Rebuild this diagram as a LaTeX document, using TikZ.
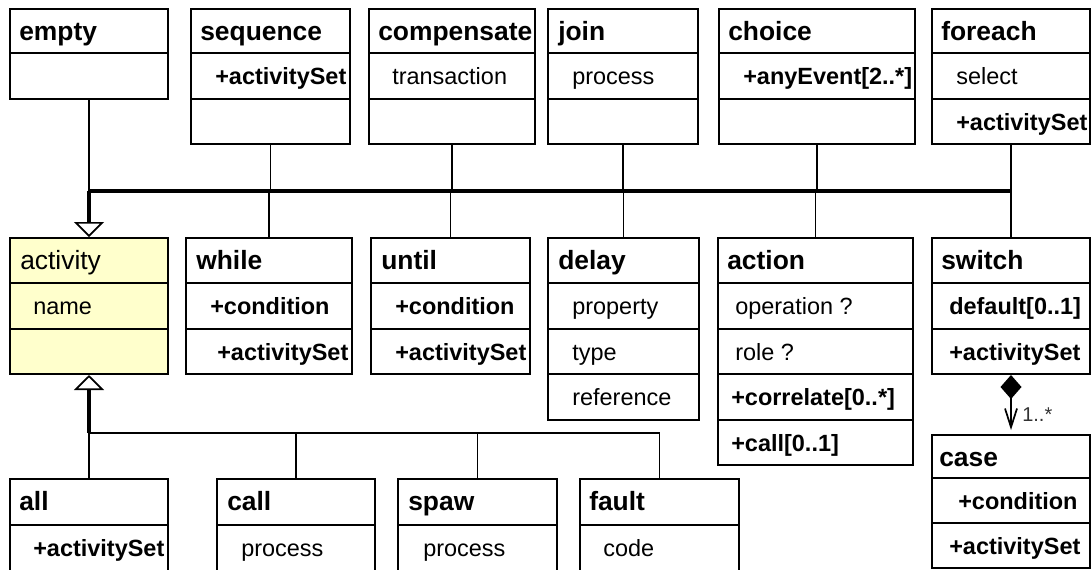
\documentclass[tikz,border=0pt]{standalone}
\usepackage{fontspec}
\setmainfont{Liberation Sans}
\usetikzlibrary{arrows.meta,fit}

\definecolor{noteyellow}{RGB}{255,255,204}

\tikzset{
  box/.style={draw, line width=1.5pt, inner sep=0pt},
  divline/.style={line width=1.5pt},
  hdr/.style={font=\fontsize{19.8}{22}\selectfont\bfseries, inner sep=0pt},
  hreg/.style={font=\fontsize{19.8}{22}\selectfont, inner sep=0pt},
  att/.style={font=\fontsize{17.6}{20}\selectfont, inner sep=0pt},
  batt/.style={font=\fontsize{17.6}{20}\selectfont\bfseries, inner sep=0pt},
  lbl/.style={font=\fontsize{15}{17}\selectfont, text=black!80, inner sep=0pt},
  thinln/.style={line width=1.4pt},
  medln/.style={line width=1.9pt},
  thickln/.style={line width=2.3pt},
  gen/.style={-{Triangle[open, length=11.25pt, width=22.5pt, line width=1.3pt]}},
}

% class box: name, left, top, right, bottom
\newcommand\umlbox[6][]{\node[box, #1, fit={(#3,#4) (#5,#6)}] (#2) {};}
% compartment separator: box name, y
\newcommand\sep[2]{\draw[divline] (#1.west |- 0,#2) -- (#1.east |- 0,#2);}
% compartment text: style, name, x, baseline, text
\newcommand\ct[5]{\node[#1, anchor=base west] (#2) at (#3,#4) {#5};}

\begin{document}
\begin{tikzpicture}[x=0.75pt, y=-0.75pt]
\fill[white] (0,0) rectangle (1091,569);
\useasboundingbox (0,0) rectangle (1091,569);

% ---- top row ----
\umlbox{empty}{10}{9}{168}{99}
\sep{empty}{53}
\ct{hdr}{empty-h}{19}{40}{empty}

\umlbox{sequence}{191}{9}{350}{144}
\sep{sequence}{53}\sep{sequence}{99}
\ct{hdr}{sequence-h}{200}{40}{sequence}
\ct{batt}{sequence-a}{215}{84}{+activitySet}

\umlbox{compensate}{369}{9}{535}{144}
\sep{compensate}{53}\sep{compensate}{99}
\ct{hdr}{compensate-h}{378}{40}{compensate}
\ct{att}{compensate-a}{392}{84}{transaction}

\umlbox{join}{548}{9}{698}{144}
\sep{join}{53}\sep{join}{99}
\ct{hdr}{join-h}{558}{40}{join}
\ct{att}{join-a}{572}{84}{process}

\umlbox{choice}{719}{9}{915}{144}
\sep{choice}{53}\sep{choice}{99}
\ct{hdr}{choice-h}{728}{40}{choice}
\ct{batt}{choice-a}{743}{84}{+anyEvent[2..*]}

\umlbox{foreach}{932}{9}{1090}{144}
\sep{foreach}{53}\sep{foreach}{99}
\ct{hdr}{foreach-h}{941}{40}{foreach}
\ct{att}{foreach-a}{956}{84}{select}
\ct{batt}{foreach-b}{956}{130}{+activitySet}

% ---- middle row ----
\umlbox[fill=noteyellow]{activity}{10}{238}{168}{374}
\sep{activity}{283}\sep{activity}{329}
\ct{hreg}{activity-h}{20}{269}{activity}
\ct{att}{activity-a}{33}{314}{name}

\umlbox{while}{186}{238}{352}{374}
\sep{while}{283}\sep{while}{329}
\ct{hdr}{while-h}{196}{269}{while}
\ct{batt}{while-a}{210}{314}{+condition}
\ct{batt}{while-b}{217}{360}{+activitySet}

\umlbox{until}{371}{238}{530}{374}
\sep{until}{283}\sep{until}{329}
\ct{hdr}{until-h}{381}{269}{until}
\ct{batt}{until-a}{395}{314}{+condition}
\ct{batt}{until-b}{395}{360}{+activitySet}

\umlbox{delay}{548}{238}{699}{420}
\sep{delay}{283}\sep{delay}{329}\sep{delay}{374}
\ct{hdr}{delay-h}{558}{269}{delay}
\ct{att}{delay-a}{572}{314}{property}
\ct{att}{delay-b}{572}{360}{type}
\ct{att}{delay-c}{572}{405}{reference}

\umlbox{action}{718}{238}{913}{465}
\sep{action}{283}\sep{action}{329}\sep{action}{374}\sep{action}{420}
\ct{hdr}{action-h}{727}{269}{action}
\ct{att}{action-a}{735}{314}{operation ?}
\ct{att}{action-b}{735}{360}{role ?}
\ct{batt}{action-c}{731}{405}{+correlate[0..*]}
\ct{batt}{action-d}{731}{451}{+call[0..1]}

\umlbox{switch}{932}{238}{1090}{374}
\sep{switch}{283}\sep{switch}{329}
\ct{hdr}{switch-h}{941}{269}{switch}
\ct{batt}{switch-a}{949}{314}{default[0..1]}
\ct{batt}{switch-b}{949}{360}{+activitySet}

\umlbox{case}{932}{435}{1090}{568}
\sep{case}{478}\sep{case}{523}
\ct{hdr}{case-h}{939}{466}{case}
\ct{batt}{case-a}{958}{509}{+condition}
\ct{batt}{case-b}{949}{554}{+activitySet}

% ---- bottom row ----
\umlbox{all}{10}{479}{168}{585}
\sep{all}{525}
\ct{hdr}{all-h}{19}{510}{all}
\ct{batt}{all-a}{33}{556}{+activitySet}

\umlbox{call}{217}{479}{375}{585}
\sep{call}{525}
\ct{hdr}{call-h}{227}{510}{call}
\ct{att}{call-a}{241}{556}{process}

\umlbox{spaw}{398}{479}{557}{585}
\sep{spaw}{525}
\ct{hdr}{spaw-h}{408}{510}{spaw}
\ct{att}{spaw-a}{423}{556}{process}

\umlbox{fault}{580}{479}{739}{585}
\sep{fault}{525}
\ct{hdr}{fault-h}{589}{510}{fault}
\ct{att}{fault-a}{603}{556}{code}

% ---- generalizations into activity (upper tree) ----
\coordinate (busT) at (0,191);
\foreach \n in {empty,sequence,compensate,join,choice,foreach}
  \draw[thinln] (\n.south) -- (\n.south |- busT);
\foreach \n in {while,until,delay,action,switch}
  \draw[thinln] (\n.north) -- (\n.north |- busT);
\draw[thickln] (empty.south |- busT) -- (foreach.south |- busT);
\draw[thickln, gen] (empty.south |- busT) -- (activity.north);

% ---- generalizations into activity (lower tree) ----
\coordinate (busB) at (0,433);
\foreach \n in {all,call,spaw,fault}
  \draw[thinln] (\n.north) -- (\n.north |- busB);
\draw[medln] (all.north |- busB) -- (fault.north |- busB);
\draw[thickln, gen] (all.north |- busB) -- (activity.south);

% ---- composition switch -> case ----
\draw[line width=1.4pt, {Diamond[length=18pt, width=15.75pt]}-{Straight Barb[length=14pt, width=9pt, line width=1.3pt]}, shorten >=3pt]
  (switch.south) -- (case.north);
\ct{lbl}{mult}{1022}{421}{1..*}
\end{tikzpicture}
\end{document}
